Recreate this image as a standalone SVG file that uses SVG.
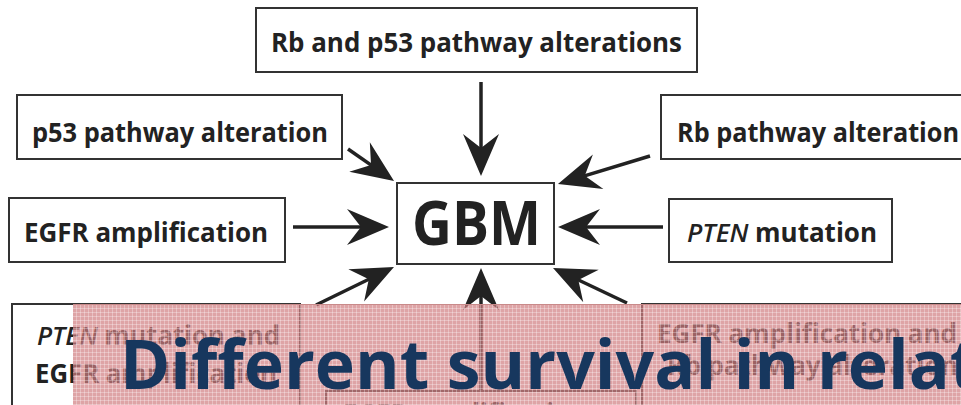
<svg xmlns="http://www.w3.org/2000/svg" width="961" height="405" viewBox="0 0 961 405">
<style>
.box{fill:#fff;stroke:#333;stroke-width:2}
.lbl{font-family:"Open Sans","Liberation Sans",sans-serif;font-weight:700;font-size:26px;fill:#222}
.it{font-style:italic;font-weight:600}
.gbm{font-family:"Open Sans","Liberation Sans",sans-serif;font-weight:700;font-size:60px;fill:#222}
.arr{stroke:#222;stroke-width:3.5;fill:none;marker-end:url(#ah)}
.title{font-family:"Open Sans","Liberation Sans",sans-serif;font-weight:700;font-size:68px;fill:#17375e}
</style>
<defs>
<marker id="ah" markerUnits="userSpaceOnUse" markerWidth="50" markerHeight="40" viewBox="-25 -20 50 40" refX="0" refY="0" orient="auto">
<path d="M20,0 L-22,-18 L-8,0 L-22,18 Z" fill="#222"/>
</marker>
<pattern id="grid" width="4" height="4" patternUnits="userSpaceOnUse">
<path d="M0,0.5 H4 M0.5,0 V4" stroke="#fff" stroke-opacity="0.3" stroke-width="1"/>
</pattern>
</defs>
<rect width="961" height="405" fill="#fff"/>

<g id="connectors">
<line class="arr" x1="481" y1="82" x2="481" y2="156"/>
<line class="arr" x1="348" y1="149" x2="377.6" y2="169.6"/>
<line class="arr" x1="293" y1="227" x2="369" y2="227"/>
<line class="arr" x1="650" y1="156" x2="577.1" y2="178.2"/>
<line class="arr" x1="663" y1="227" x2="578" y2="227"/>
<line class="arr" x1="316" y1="305" x2="376" y2="275.8"/>
<line class="arr" x1="481" y1="391" x2="481" y2="288"/>
<line class="arr" x1="627" y1="303" x2="571.1" y2="276.5"/>
</g>

<g id="n-rbp53">
<rect class="box" x="256" y="8" width="441" height="64"/>
<text class="lbl" x="271" y="52" textLength="411" lengthAdjust="spacingAndGlyphs">Rb and p53 pathway alterations</text>
</g>
<g id="n-p53">
<rect class="box" x="17" y="95" width="325" height="64"/>
<text class="lbl" x="32" y="142" textLength="296" lengthAdjust="spacingAndGlyphs">p53 pathway alteration</text>
</g>
<g id="n-egfr">
<rect class="box" x="9" y="198" width="276" height="64"/>
<text class="lbl" x="24" y="242" textLength="244" lengthAdjust="spacingAndGlyphs">EGFR amplification</text>
</g>
<g id="n-rb">
<rect class="box" x="661" y="95" width="310" height="64"/>
<text class="lbl" x="677" y="142" textLength="282" lengthAdjust="spacingAndGlyphs">Rb pathway alteration</text>
</g>
<g id="n-pten">
<rect class="box" x="669" y="199" width="223" height="63"/>
<text class="lbl" x="687" y="242" textLength="190" lengthAdjust="spacingAndGlyphs"><tspan class="it">PTEN</tspan> mutation</text>
</g>
<g id="n-gbm">
<rect class="box" x="397" y="183" width="157" height="81"/>
<text class="gbm" x="412" y="245" textLength="129" lengthAdjust="spacingAndGlyphs">GBM</text>
</g>
<g id="n-pten-egfr">
<rect class="box" x="12" y="304" width="288" height="120"/>
<text class="lbl" x="37" y="345" textLength="243" lengthAdjust="spacingAndGlyphs"><tspan class="it">PTEN</tspan> mutation and</text>
<text class="lbl" x="35" y="383" textLength="242" lengthAdjust="spacingAndGlyphs">EGFR amplification</text>
</g>
<g id="n-bottom">
<rect class="box" x="326" y="391" width="310" height="60"/>
<text class="lbl" x="343" y="423" textLength="244" lengthAdjust="spacingAndGlyphs">EGFR amplification</text>
</g>
<g id="n-egfr-rb">
<rect class="box" x="642" y="304" width="330" height="120"/>
<text class="lbl" x="657" y="343" textLength="300" lengthAdjust="spacingAndGlyphs">EGFR amplification and</text>
<text class="lbl" x="667" y="375">Rb pathway alterations</text>
</g>

<g id="banner">
<rect x="73" y="304" width="888" height="101" fill="#d07d80" fill-opacity="0.7"/>
<rect x="73" y="304" width="888" height="101" fill="url(#grid)"/>
<line x1="73" y1="304.5" x2="961" y2="304.5" stroke="#c98a8a" stroke-width="1"/>
<text class="title" x="120" y="389">Different survival in relat</text>
</g>
</svg>
